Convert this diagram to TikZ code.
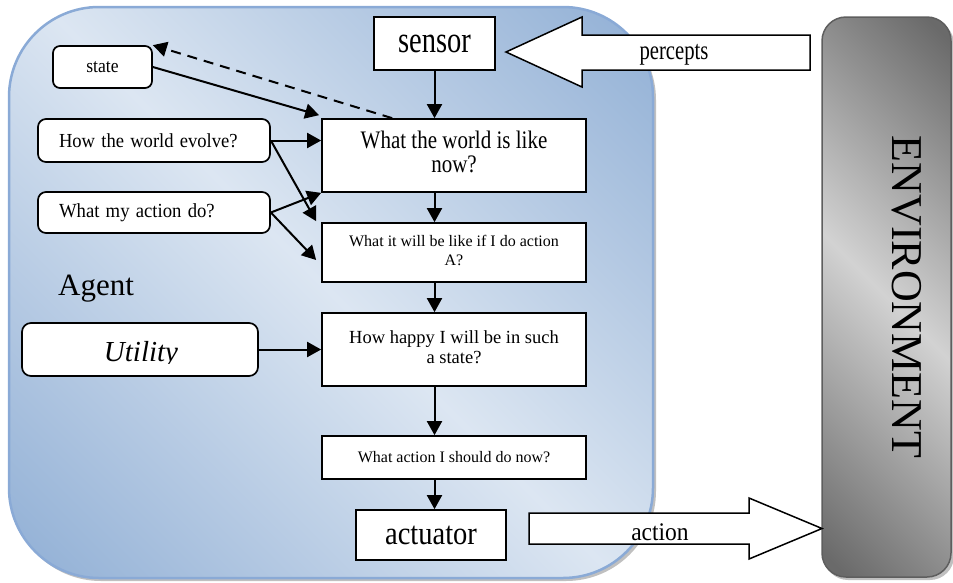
\documentclass[tikz,border=0pt]{standalone}
\usepackage{fontspec}
\setmainfont{Liberation Serif}
\usepackage{graphicx}
\usetikzlibrary{arrows.meta,calc}

\definecolor{agentdark}{HTML}{93B1D6}
\definecolor{agentlight}{HTML}{DCE6F2}
\definecolor{agentedge}{HTML}{8AAAD6}
\definecolor{envdark}{HTML}{6A6A6A}
\definecolor{envlight}{HTML}{D2D2D2}
\definecolor{envedge}{HTML}{5E5E5E}

% diagonal fills: dark towards two opposite corners, light across the middle
\pgfdeclareverticalshading{agentfill}{100bp}{color(0bp)=(agentdark); color(16bp)=(agentdark);
  color(50bp)=(agentlight); color(84bp)=(agentdark); color(100bp)=(agentdark)}
\pgfdeclareverticalshading{envfill}{100bp}{color(0bp)=(envdark); color(17bp)=(envdark);
  color(50bp)=(envlight); color(83bp)=(envdark); color(100bp)=(envdark)}

% vertically stretched text, one or two lines
\newcommand\stretched[2]{\scalebox{1}[#1]{#2}}
\newcommand\twolines[3]{\scalebox{1}[#1]{\begin{tabular}{@{}c@{}}#2\\#3\end{tabular}}}

\tikzset{
  flowbox/.style={draw=black, line width=1.7pt, fill=white, inner sep=0pt, align=center},
  sidebox/.style={draw=black, line width=1.7pt, fill=white, rounded corners=8pt, inner sep=0pt},
  flow/.style={line width=2pt, -{Triangle[length=14pt,width=15pt]}},
  bigarrow/.style={draw=black, line width=1.5pt, fill=white, line join=miter},
  panelshadow/.style={fill=black!45, opacity=.55},
}

\begin{document}
\begin{tikzpicture}[x=1pt,y=-1pt]
\useasboundingbox (0,0) rectangle (953,582);

% agent panel with its drop shadow
\fill[panelshadow, rounded corners=90pt] (11,10) rectangle (656,581);
\shade[shading=agentfill, shading angle=-45, rounded corners=90pt, draw=agentedge, line width=2.5pt]
  (9,7) rectangle (653,578);

% environment panel with its drop shadow
\fill[panelshadow, rounded corners=24pt] (824,20) rectangle (954,580);
\shade[shading=envfill, shading angle=-45, rounded corners=24pt, draw=envedge, line width=1.5pt]
  (822,17) rectangle (951,577);
\node[rotate=-90, font=\fontsize{44}{44}\selectfont] (envlabel) at (907,297) {ENVIRONMENT};

% percepts: block arrow from the environment into the sensor
\draw[bigarrow] (506,52) -- (582,17) -- (582,35) -- (810,35) -- (810,70)
  -- (582,70) -- (582,87) -- cycle;
\node[anchor=base, font=\fontsize{20.7}{21}\selectfont] (percepts) at (674,59)
  {\stretched{1.3}{percepts}};

% action: block arrow from the actuator into the environment
\draw[bigarrow] (529,513) -- (749,513) -- (749,498) -- (822,528.5) -- (749,559)
  -- (749,544) -- (529,544) -- cycle;
\node[anchor=base, font=\fontsize{23.5}{24}\selectfont] (action) at (660,540)
  {\stretched{1.08}{action}};

% agent label
\node[anchor=base, font=\fontsize{31}{31}\selectfont] (agentlabel) at (96,295) {Agent};

% main chain
\node[flowbox, minimum width=121pt, minimum height=53pt, font=\fontsize{28.5}{30}\selectfont]
  (sensor) at (434.5,43.5) {\stretched{1.3}{sensor}};
\node[flowbox, minimum width=264pt, minimum height=73pt, font=\fontsize{21}{20}\selectfont]
  (now) at (454,155.5) {\twolines{1.2}{What the world is like}{now?}};
\node[flowbox, minimum width=264pt, minimum height=59pt, font=\fontsize{16}{19}\selectfont]
  (will) at (454,252.5) {\twolines{1}{What it will be like if I do action}{A?}};
\node[flowbox, minimum width=264pt, minimum height=73pt, font=\fontsize{18.5}{20}\selectfont]
  (happy) at (454,349.5) {\twolines{1}{How happy I will be in such}{a state?}};
\node[flowbox, minimum width=264pt, minimum height=43pt, font=\fontsize{16}{16}\selectfont]
  (should) at (454,457.5) {What action I should do now?};
\node[flowbox, minimum width=150pt, minimum height=50pt, font=\fontsize{28.5}{30}\selectfont]
  (actuator) at (431,535) {\stretched{1.15}{actuator}};

% knowledge boxes on the left
\node[sidebox, rounded corners=7pt, minimum width=99pt, minimum height=42pt,
      font=\fontsize{17.6}{18}\selectfont]
  (state) at (102.5,67) {\stretched{1.1}{state}};
\node[sidebox, minimum height=43pt, inner xsep=21pt, text width=190pt, align=left,
      font=\fontsize{18.6}{19}\selectfont]
  (evolve) at (154,140.5) {\stretched{1.07}{How the world evolve?}};
\node[sidebox, minimum height=41pt, inner xsep=21pt, text width=190pt, align=left,
      font=\fontsize{18.7}{19}\selectfont]
  (mydo) at (154,212.5) {\stretched{1.07}{What my action do?}};
\node[sidebox, rounded corners=9pt, minimum width=236pt, minimum height=53pt]
  (utility) at (140,349.5) {};
\begin{scope}
  \clip (utility.north west) rectangle ($(utility.east)+(0,13.5)$);
  \node[anchor=base, font=\itshape\fontsize{29}{29}\selectfont] (utilitytext)
    at (141,361) {Utility};
\end{scope}

% flow through the agent
\draw[flow] (sensor.south) -- (sensor.south |- now.north);
\draw[flow] (now.south -| sensor.south) -- (will.north -| sensor.south);
\draw[flow] (will.south -| sensor.south) -- (happy.north -| sensor.south);
\draw[flow] (happy.south -| sensor.south) -- (should.north -| sensor.south);
\draw[flow] (should.south -| sensor.south) -- (actuator.north -| sensor.south);

% inputs from the knowledge boxes
\draw[flow] (state.east) -- ($(now.north west)+(-2,-3)$);
\draw[flow, dash pattern=on 10pt off 7pt] ($(now.north west)+(71,0)$) -- (state.north east);
\draw[flow] (evolve.east) -- (evolve.east -| now.west);
\draw[flow] (evolve.east) -- ($(will.north west)+(-5,-1)$);
\draw[flow] (mydo.east) -- (now.south west);
\draw[flow] (mydo.east) -- ($(will.west)+(-5,7.5)$);
\draw[flow] (utility.east) -- (utility.east -| happy.west);

\end{tikzpicture}
\end{document}
